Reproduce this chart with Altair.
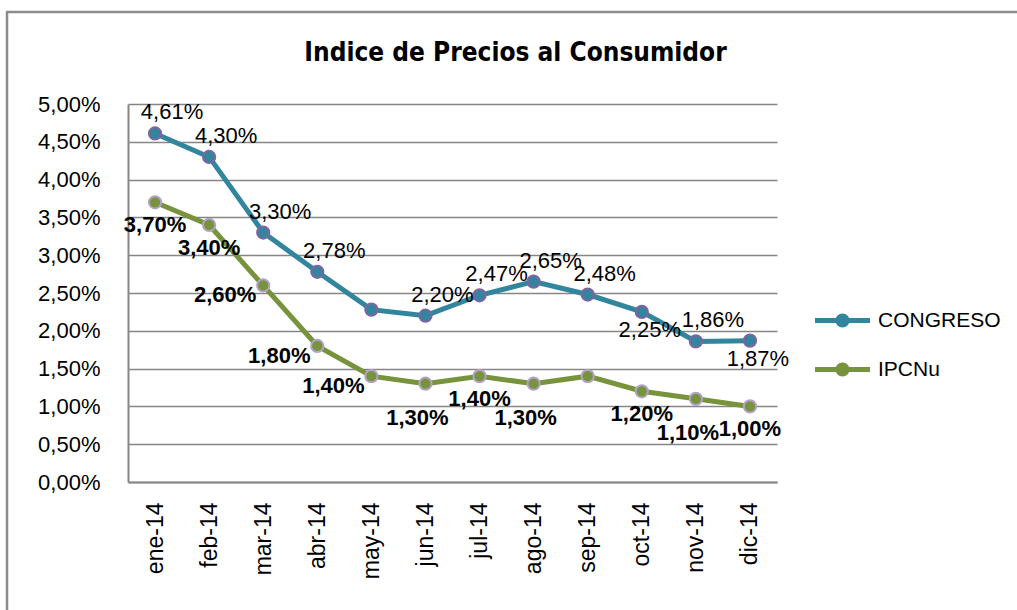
import altair as alt
import pandas as pd

months = ["ene-14", "feb-14", "mar-14", "abr-14", "may-14", "jun-14",
          "jul-14", "ago-14", "sep-14", "oct-14", "nov-14", "dic-14"]
congreso = [4.61, 4.30, 3.30, 2.78, 2.28, 2.20, 2.47, 2.65, 2.48, 2.25, 1.86, 1.87]
ipcnu = [3.70, 3.40, 2.60, 1.80, 1.40, 1.30, 1.40, 1.30, 1.40, 1.20, 1.10, 1.00]
congreso_labels = ["4,61%", "4,30%", "3,30%", "2,78%", "", "2,20%",
                   "2,47%", "2,65%", "2,48%", "2,25%", "1,86%", "1,87%"]
ipcnu_labels = ["3,70%", "3,40%", "2,60%", "1,80%", "1,40%", "1,30%",
                "1,40%", "1,30%", "", "1,20%", "1,10%", "1,00%"]
# Excel-style data-label placement per point (t = above, b = below, l = left, bb = further below)
congreso_label_pos = ["t", "t", "t", "t", "t", "t", "t", "t", "t", "b", "t", "b"]
ipcnu_label_pos = ["b", "b", "l", "l", "l", "bb", "b", "bb", "b", "b", "bb", "b"]
y_ticks = [0.0, 0.5, 1.0, 1.5, 2.0, 2.5, 3.0, 3.5, 4.0, 4.5, 5.0]
series_names = ["CONGRESO", "IPCNu"]
line_colors = ["#31859C", "#77933C"]
ring_colors = ["#8064A2", "#B3A2C7"]
title_text = "Indice de Precios al Consumidor"

rows = []
for name, vals, labs, poss in [("CONGRESO", congreso, congreso_labels, congreso_label_pos),
                               ("IPCNu", ipcnu, ipcnu_labels, ipcnu_label_pos)]:
    for m, v, l, p in zip(months, vals, labs, poss):
        rows.append({"mes": m, "serie": name, "valor": v, "etiqueta": l, "pos": p})
df = pd.DataFrame(rows)

FONT = "Liberation Sans"
FRAME = "#8c8c8c"

x = alt.X("mes:N", sort=months,
          scale=alt.Scale(type="point", padding=0.5),
          axis=alt.Axis(title=None, labelAngle=270, labelFontSize=23, labelFont=FONT,
                        labelColor="#000000", labelPadding=20, ticks=False,
                        domain=True, domainColor="#868686", domainWidth=2, grid=False))
y = alt.Y("valor:Q",
          scale=alt.Scale(domain=[0, 5], nice=False, zero=True),
          axis=alt.Axis(title=None, values=y_ticks,
                        labelExpr="replace(format(datum.value, '.2f'), '.', ',') + '%'",
                        labelFontSize=22, labelFont=FONT, labelColor="#000000",
                        labelPadding=28, ticks=False, domain=True, domainColor="#868686",
                        domainWidth=2, grid=True, gridColor="#868686", gridWidth=1.5))

base = alt.Chart(df)

# outer chart frame (left and top edges visible in the picture)
frame_df = pd.DataFrame({"k": [0]})
frame_left = alt.Chart(frame_df).mark_rule(color=FRAME, strokeWidth=2.5, clip=False).encode(
    x=alt.value(-121), y=alt.value(-92), y2=alt.value(520))
frame_top = alt.Chart(frame_df).mark_rule(color=FRAME, strokeWidth=2.5, clip=False).encode(
    x=alt.value(-122), x2=alt.value(900), y=alt.value(-92))

lines = base.mark_line(strokeWidth=5).encode(
    x=x, y=y,
    color=alt.Color("serie:N", scale=alt.Scale(domain=series_names, range=line_colors), legend=None),
    detail="serie:N",
)

legend_symbol = ("M-2.75,-0.25 L2.75,-0.25 L2.75,0.25 L-2.75,0.25 Z "
                 "M-0.7,0 A0.7,0.7 0 1,1 0.7,0 A0.7,0.7 0 1,1 -0.7,0 Z")

points = base.mark_point(shape="circle", filled=True, opacity=1, size=150, strokeWidth=2).encode(
    x=x, y=y,
    fill=alt.Fill("serie:N", scale=alt.Scale(domain=series_names, range=line_colors),
                  legend=alt.Legend(title=None, orient="none", legendX=704, legendY=206,
                                    symbolType=legend_symbol, symbolSize=400,
                                    symbolStrokeWidth=0, symbolOpacity=1,
                                    labelFontSize=21, labelFont=FONT, labelColor="#000000",
                                    labelOffset=25, rowPadding=27, padding=0)),
    stroke=alt.Stroke("serie:N", scale=alt.Scale(domain=series_names, range=ring_colors), legend=None),
)


def labels(serie, pos, dx, dy, bold):
    return base.transform_filter(
        (alt.datum.serie == serie) & (alt.datum.pos == pos)
    ).mark_text(
        font=FONT, fontSize=22, fontWeight="bold" if bold else "normal",
        dx=dx, dy=dy, color="#000000", align="center", baseline="middle"
    ).encode(x=x, y=y, text="etiqueta:N")


text_layers = [
    labels("CONGRESO", "t", 17, -21, False),
    labels("CONGRESO", "b", 8, 18, False),
    labels("IPCNu", "b", 0, 23, True),
    labels("IPCNu", "l", -38, 10, True),
    labels("IPCNu", "bb", -8, 34, True),
]

chart = alt.layer(frame_left, frame_top, lines, points, *text_layers).resolve_scale(
    color="independent", fill="independent", stroke="independent"
).properties(
    width=649, height=378,
    title=alt.TitleParams(title_text, font="DejaVu Sans Condensed", fontSize=26,
                          fontWeight="bold", color="#000000", anchor="middle", dx=63,
                          offset=27, dy=82),
    autosize=alt.AutoSizeParams(type="none"),
    padding={"left": 128, "top": 104, "right": 240, "bottom": 128},
).configure(background="#ffffff").configure_view(stroke=None)

chart.save("out.html", embed_options={"renderer": "svg", "actions": False})
